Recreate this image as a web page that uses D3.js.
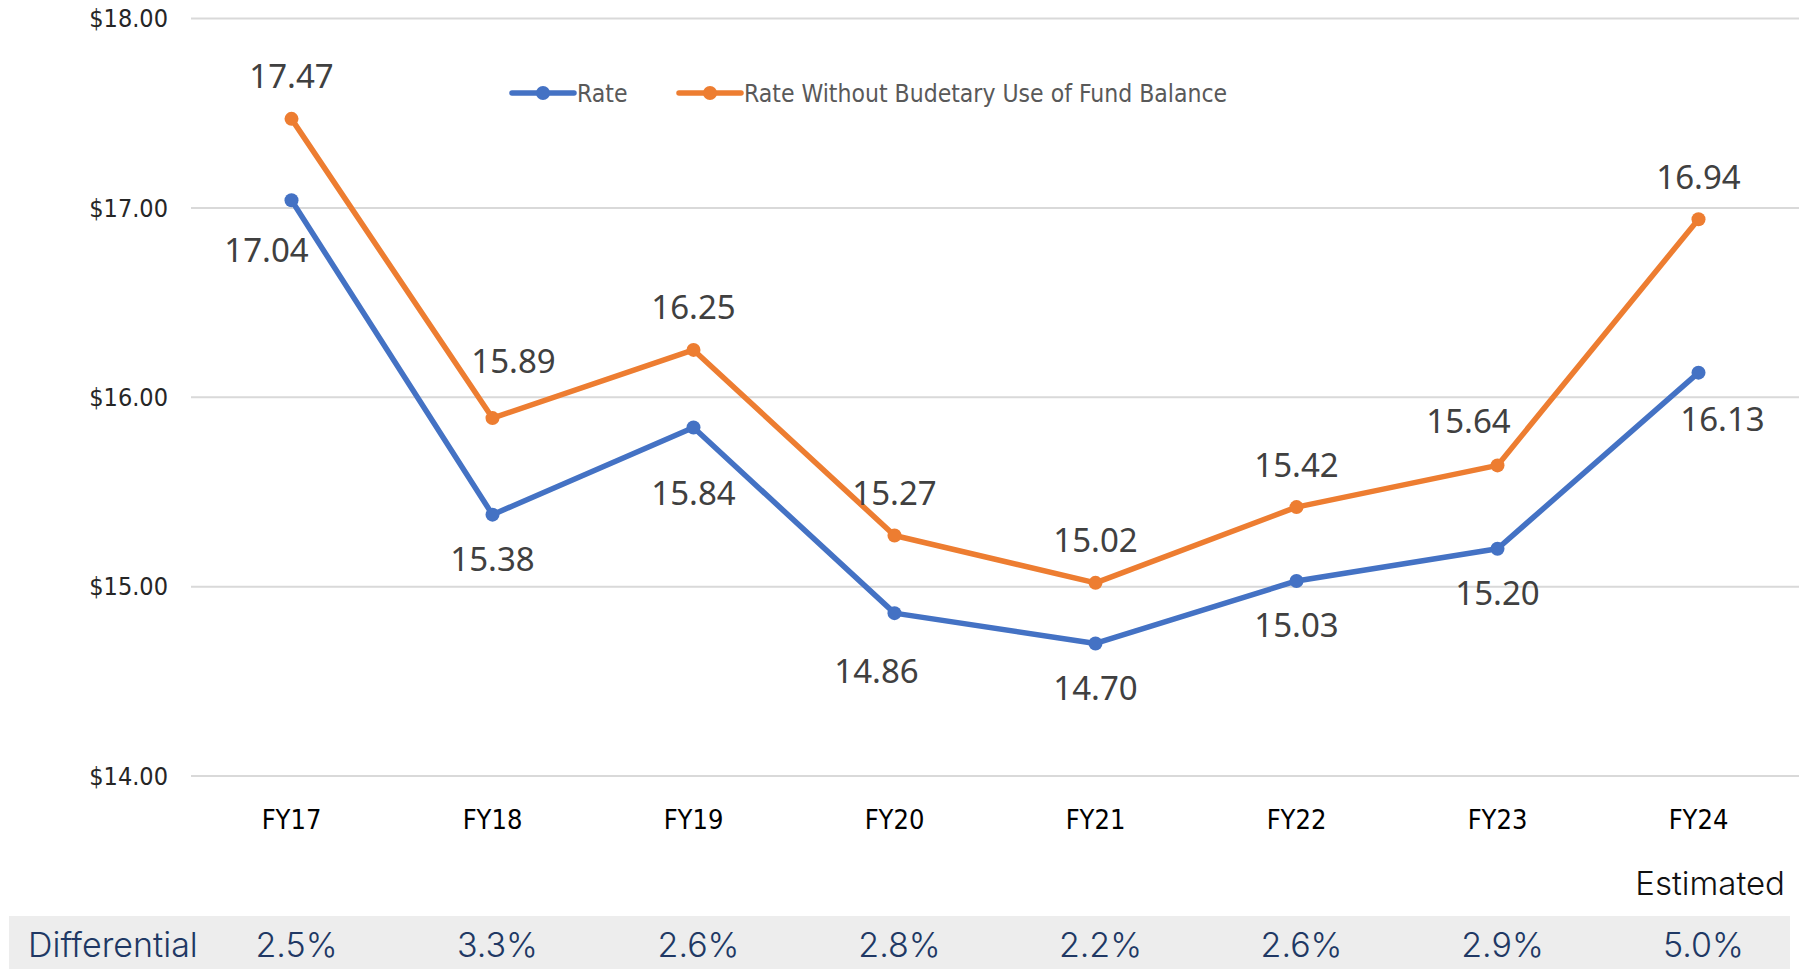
<!DOCTYPE html>
<html>
<head>
<meta charset="utf-8">
<title>Rate</title>
<script src="https://d3js.org/d3.v7.min.js"></script>
<style>
  body { margin: 0; padding: 0; background: #fff; overflow: hidden; }
  .narrow { font-family: "DejaVu Sans Condensed", "Liberation Sans Narrow", "Roboto", sans-serif; font-stretch: condensed; }
  .lbl { font-family: "Noto Sans", "Open Sans", sans-serif; fill: #404040; }
  .tbl { font-family: "Inter", "Roboto", sans-serif; font-weight: 300; }
</style>
</head>
<body>
<script>
// data
var years = ["FY17", "FY18", "FY19", "FY20", "FY21", "FY22", "FY23", "FY24"];
var rate = [17.04, 15.38, 15.84, 14.86, 14.70, 15.03, 15.20, 16.13];
var rateNoFund = [17.47, 15.89, 16.25, 15.27, 15.02, 15.42, 15.64, 16.94];
var differential = ["2.5%", "3.3%", "2.6%", "2.8%", "2.2%", "2.6%", "2.9%", "5.0%"];
var yTicks = [14, 15, 16, 17, 18];

// label nudges (layout only)
var nudgeRate = {0: [-25, 50], 2: [0, 66], 3: [-18, 58], 7: [24, 47]};
var nudgeNoFund = {1: [21, -57], 6: [-29, -44]};

var width = 1814, height = 969;
var svg = d3.select("body").append("svg")
  .attr("width", width).attr("height", height);

var x = d3.scalePoint().domain(years).range([191, 1799]).padding(0.5);
var y = d3.scaleLinear().domain([14, 18]).range([776, 18.5]);

// grid
svg.append("g").selectAll("line").data(yTicks).enter().append("line")
  .attr("x1", 191).attr("x2", 1799)
  .attr("y1", d => y(d)).attr("y2", d => y(d))
  .style("stroke", "#d9d9d9").style("stroke-width", 2);

// y axis labels
svg.append("g").selectAll("text").data(yTicks).enter().append("text")
  .attr("class", "narrow")
  .attr("x", 168).attr("y", d => y(d))
  .attr("dy", "0.35em")
  .attr("text-anchor", "end")
  .style("font-size", "25px").style("fill", "#262626")
  .text(d => "$" + d3.format(".2f")(d));

// x labels
svg.append("g").selectAll("text").data(years).enter().append("text")
  .attr("class", "narrow")
  .attr("x", d => x(d)).attr("y", 820)
  .attr("dy", "0.35em")
  .attr("text-anchor", "middle")
  .style("font-size", "27px").style("fill", "#000")
  .text(d => d);

var series = [
  {name: "Rate", values: rate, color: "#4472C4", nudge: nudgeRate, dy: 45},
  {name: "Rate Without Budetary Use of Fund Balance", values: rateNoFund, color: "#ED7D31", nudge: nudgeNoFund, dy: -42}
];

var line = d3.line().x((d, i) => x(years[i])).y(d => y(d));

series.forEach(function(s) {
  var g = svg.append("g");
  g.append("path").datum(s.values)
    .attr("d", line)
    .style("fill", "none")
    .style("stroke", s.color)
    .style("stroke-width", 5.5)
    .style("stroke-linejoin", "round");
  g.selectAll("circle").data(s.values).enter().append("circle")
    .attr("cx", (d, i) => x(years[i])).attr("cy", d => y(d))
    .attr("r", 7).style("fill", s.color);
  g.selectAll("text").data(s.values).enter().append("text")
    .attr("class", "lbl")
    .attr("x", (d, i) => x(years[i]) + (s.nudge[i] ? s.nudge[i][0] : 0))
    .attr("y", (d, i) => y(d) + (s.nudge[i] ? s.nudge[i][1] : s.dy))
    .attr("dy", "0.35em")
    .attr("text-anchor", "middle")
    .style("font-size", "33px")
    .text(d => d3.format(".2f")(d));
});

// legend
var legendX = [512, 679];
series.forEach(function(s, i) {
  var lg = svg.append("g").attr("transform", "translate(" + legendX[i] + ",93)");
  lg.append("line").attr("x1", 0).attr("x2", 62)
    .style("stroke", s.color).style("stroke-width", 5.5).style("stroke-linecap", "round");
  lg.append("circle").attr("cx", 31).attr("r", 7).style("fill", s.color);
  lg.append("text").attr("class", "narrow")
    .attr("x", 65).attr("dy", "0.35em")
    .style("font-size", "24.5px").style("fill", "#595959")
    .text(s.name);
});

// Estimated note
svg.append("text").attr("class", "tbl")
  .attr("x", 1785).attr("y", 883).attr("dy", "0.35em")
  .attr("text-anchor", "end")
  .style("font-size", "33px").style("fill", "#111")
  .text("Estimated");

// differential band
svg.append("rect").attr("x", 9).attr("y", 916).attr("width", 1781).attr("height", 53)
  .style("fill", "#ededed");
svg.append("text").attr("class", "tbl")
  .attr("x", 28).attr("y", 945).attr("dy", "0.35em")
  .style("font-size", "34px").style("fill", "#203864")
  .text("Differential");
svg.append("g").selectAll("text").data(differential).enter().append("text")
  .attr("class", "tbl")
  .attr("x", (d, i) => x(years[i]) + 5).attr("y", 945).attr("dy", "0.35em")
  .attr("text-anchor", "middle")
  .style("font-size", "34px").style("fill", "#203864")
  .text(d => d);
</script>
</body>
</html>
